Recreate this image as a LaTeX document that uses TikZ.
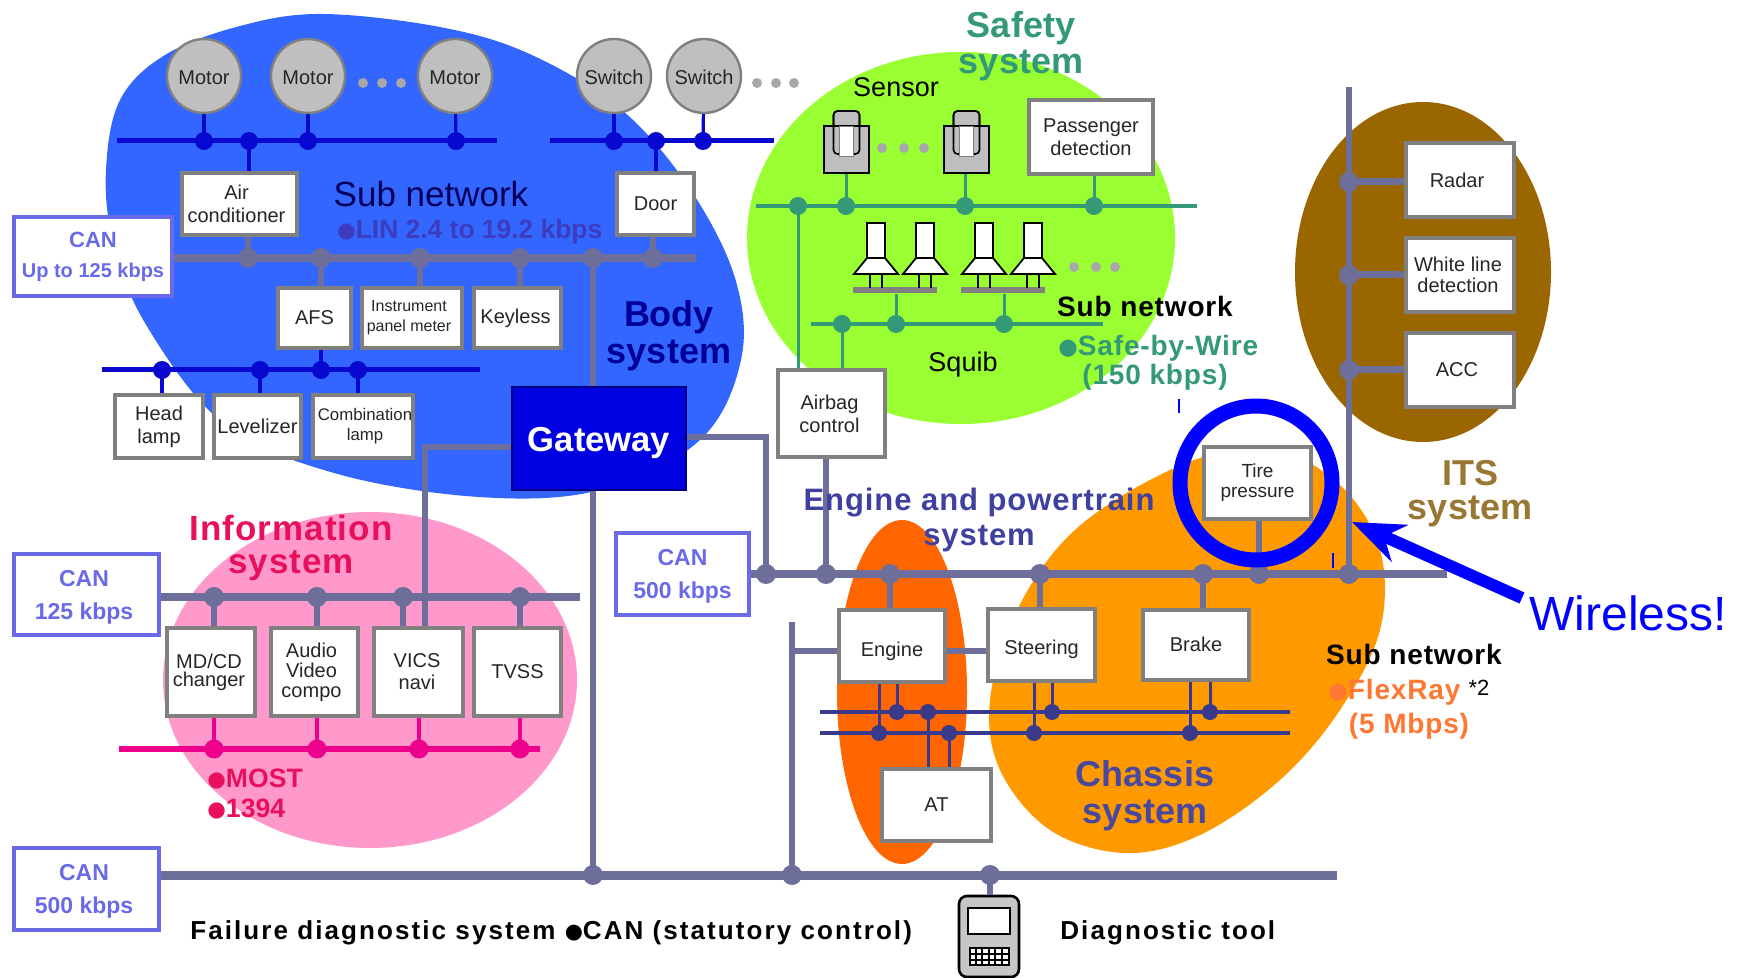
\documentclass[tikz,border=0pt]{standalone}
\usepackage{graphicx}
\usepackage{fontspec}
\setmainfont{Liberation Sans}
\newfontfamily\sym{DejaVu Sans}
\newfontfamily\lsb[LetterSpace=8]{Liberation Sans}
\newfontfamily\lsc[LetterSpace=3]{Liberation Sans}
\usetikzlibrary{arrows.meta,calc}
\definecolor{busgray}{HTML}{6E6E9A}
\definecolor{boxgray}{HTML}{808080}
\definecolor{linblue}{HTML}{0808D0}
\definecolor{cangreen}{HTML}{339977}
\definecolor{canedge}{HTML}{6A6AE8}
\definecolor{flexnavy}{HTML}{3A3A8C}
\definecolor{infored}{HTML}{E8105C}
\definecolor{dotgray}{HTML}{A8A8A8}
\newcommand\fs[2]{\fontsize{#1}{#2}\selectfont}
\newcommand\bull{\raisebox{0.04em}{\scalebox{0.8}{\sym ●}}}
\newcommand\lw[2]{\raisebox{#1}[\height][\depth]{#2}}
\newcommand\tl{\rule{0pt}{10.5pt}}
\newcommand\bx[7][]{\node[boxn,minimum width={(#5-#3)*0.5pt},minimum height={(#6-#4)*0.5pt},#1] (#2) at ({(#3+#5)/2},{(#4+#6)/2}) {#7};}
\newcommand\cn[7][]{\node[canbox,minimum width={(#5-#3)*0.5pt},minimum height={(#6-#4)*0.5pt},#1] (#2) at ({(#3+#5)/2},{(#4+#6)/2}) {#7};}
\tikzset{
 x=0.5pt,y=-0.5pt,
 boxn/.style={draw=boxgray,fill=white,line width=1.6pt,inner sep=0pt,align=center,text=black!85,font=\fs{10}{11.5}},
 canbox/.style={draw=canedge,fill=white,line width=1.7pt,inner sep=0pt,align=center,text=canedge,font=\bfseries\fs{11.5}{16.5}},
 actor/.style={circle,draw=boxgray,fill=gray!50,line width=1.2pt,inner sep=0pt,minimum size=37pt,font=\fs{10}{11.5},text=black!85},
 lbl/.style={inner sep=0pt,align=center},
 jb/.style={circle,fill=linblue,inner sep=0pt,minimum size=9pt},
 jg/.style={circle,fill=busgray,inner sep=0pt,minimum size=10pt},
 jc/.style={circle,fill=cangreen,inner sep=0pt,minimum size=9pt},
 jm/.style={circle,fill=magenta,inner sep=0pt,minimum size=9.5pt},
 jf/.style={circle,fill=flexnavy,inner sep=0pt,minimum size=8pt},
 dotn/.style={circle,fill=dotgray,inner sep=0pt,minimum size=5pt},
 linbus/.style={draw=linblue,line width=2.5pt},
 linstub/.style={draw=linblue,line width=1.6pt},
 canbus/.style={draw=busgray,line width=4pt},
 canstub/.style={draw=busgray,line width=2.6pt},
 greenbus/.style={draw=cangreen,line width=2pt},
 greenstub/.style={draw=cangreen,line width=1.5pt},
 mostbus/.style={draw=magenta,line width=3pt},
 mostagstub/.style={draw=magenta,line width=2.4pt},
 flexbus/.style={draw=flexnavy,line width=2pt},
 flexstub/.style={draw=flexnavy,line width=1.5pt},
}
\begin{document}
\begin{tikzpicture}
\useasboundingbox (0,0) rectangle (1746,978);
\fill[white] (0,0) rectangle (1746,978);
% ---- system regions
\fill[fill={rgb,255:red,51;green,102;blue,255}] plot[smooth cycle,tension=0.6] coordinates {(323,14)(445,28)(534,56)(623,111)(690,189)(735,278)(741,360)(700,440)(600,490)(479,497)(334,473)(223,423)(145,323)(113,240)(106,170)(120,100)(165,55)(240,26)};
\fill[fill={rgb,255:red,153;green,255;blue,51}] (961,238) ellipse (214 and 186);
\fill[fill={rgb,255:red,153;green,102;blue,0}] (1423,272) ellipse (128 and 170);
\fill[fill={rgb,255:red,255;green,153;blue,204}] (370,680) ellipse (207 and 168);
\fill[fill={rgb,255:red,255;green,102;blue,0}] (902,692) ellipse (65 and 172);
\fill[fill={rgb,255:red,255;green,153;blue,0}] plot[smooth cycle,tension=0.6] coordinates {(1270,447)(1340,485)(1380,550)(1380,630)(1340,710)(1280,780)(1200,835)(1125,853)(1050,830)(1000,770)(990,700)(1015,615)(1060,545)(1120,497)(1200,458)};
% ---- actors
\node[actor] (motorA) at (204,76) {\lw{-0.8pt}{Motor}};
\node[actor] (motorB) at (308,76) {\lw{-0.8pt}{Motor}};
\node[actor] (motorC) at (455,76) {\lw{-0.8pt}{Motor}};
\node[actor] (switchA) at (614,76) {\lw{-0.6pt}{Switch}};
\node[actor] (switchB) at (704,76) {\lw{-0.6pt}{Switch}};
\node[dotn] (d1) at (363,83) {}; \node[dotn] (d2) at (382,83) {}; \node[dotn] (d3) at (401,83) {};
\node[dotn] (d4) at (757,83) {}; \node[dotn] (d5) at (776,83) {}; \node[dotn] (d6) at (794,83) {};
% ---- boxes
\bx{aircon}{182}{173}{297}{235}{Air\kern3pt\\conditioner\kern3pt}
\bx{door}{617}{173}{694}{235}{Door}
\bx{afs}{278}{288}{351}{348}{AFS}
\bx[font=\fs{8}{10}]{instr}{362}{288}{462}{348}{Instrument\kern3pt\\panel meter\kern3pt}
\bx{keyless}{474}{288}{561}{348}{Keyless\kern2pt}
\bx{head}{115}{395}{203}{458}{Head\\lamp}
\bx{level}{214}{395}{301}{458}{Levelizer}
\bx[font=\fs{8.4}{10}]{combi}{313}{395}{413}{458}{\kern2pt Combination\\\kern2pt lamp}
\bx{pass}{1029}{100}{1153}{174}{Passenger\\detection}
\bx{airbag}{778}{370}{885}{457}{Airbag\kern2pt\\control\kern2pt}
\bx{radar}{1406}{143}{1514}{217}{Radar\kern3pt}
\bx[font=\fs{10}{10.5}]{white}{1406}{238}{1514}{312}{White line\kern2pt\\detection\kern2pt}
\bx{acc}{1406}{333}{1514}{407}{ACC\kern3pt}
\bx[font=\fs{10}{9}]{mdcd}{167}{628}{255}{716}{MD/CD\kern2pt\\changer\kern2pt}
\bx[font=\fs{10}{10}]{audio}{271}{628}{358}{716}{Audio\kern3pt\\Video\kern3pt\\compo\kern3pt}
\bx[font=\fs{10}{11}]{vics}{374}{628}{463}{716}{VICS\kern1.5pt\\navi\kern1.5pt}
\bx{tvss}{474}{628}{561}{716}{TVSS}
\bx{engine}{839}{610}{945}{682}{\lw{-2.5pt}{Engine}}
\bx{steer}{988}{609}{1095}{681}{\lw{-2.2pt}{Steering}}
\bx{brake}{1143}{610}{1249}{680}{\lw{0.5pt}{Brake}}
\bx[font=\fs{9.5}{10}]{tire}{1204}{447}{1311}{519}{Tire\\pressure}
\bx{at}{882}{769}{991}{841}{AT}
\cn[font=\bfseries\fs{11}{15}]{canA}{14}{217}{172}{296}{CAN\\{\fs{10}{15}Up to 125 kbps}}
\cn{canB}{14}{554}{159}{635}{\tl CAN\kern2.5pt\\125 kbps\kern2.5pt}
\cn{canC}{14}{848}{159}{930}{\tl CAN\kern2.5pt\\500 kbps\kern2.5pt}
\cn{canD}{616}{533}{749}{615}{\tl CAN\\500 kbps}
\node[draw={rgb,255:red,0;green,0;blue,128},fill={rgb,255:red,0;green,0;blue,224},line width=1.2pt,inner sep=0pt,minimum width=87pt,minimum height=51.5pt,text=white,font=\bfseries\fs{17.3}{20}] (gateway) at (599,438.5) {\lw{-2.2pt}{Gateway}};
% ---- junctions
\foreach \n/\px in {jA/204,jB/249,jC/308,jD/456,jE/614,jF/656,jG/703}{\node[jb] (\n) at (\px,141) {};}
\foreach \n/\px in {jH/162,jI/260,jJ/321,jK/358}{\node[jb] (\n) at (\px,370) {};}
\foreach \n/\px in {kA/248,kB/321,kC/420,kD/520,kE/593,kF/653}{\node[jg] (\n) at (\px,258) {};}
\foreach \n/\px in {lA/214,lB/317,lC/403,lD/520}{\node[jg] (\n) at (\px,597) {};}
\foreach \n/\px in {mA/214,mB/317,mC/419,mD/520}{\node[jm] (\n) at (\px,749) {};}
\foreach \n/\px in {nA/766,nB/826,nC/890,nD/1040,nE/1203,nF/1259,nG/1349}{\node[jg] (\n) at (\px,574) {};}
\foreach \n/\py in {iA/182,iB/275,iC/370}{\node[jg] (\n) at (1349,\py) {};}
\foreach \n/\px in {oA/593,oB/792,oC/990}{\node[jg] (\n) at (\px,875) {};}
\foreach \n/\px in {gA/798,gB/846,gC/965,gD/1094}{\node[jc] (\n) at (\px,206) {};}
\foreach \n/\px in {hA/842,hB/896,hC/1004}{\node[jc] (\n) at (\px,324) {};}
\foreach \n/\px in {fA/897,fB/928,fC/1052,fD/1210}{\node[jf] (\n) at (\px,712) {};}
\foreach \n/\px in {fE/879,fF/949,fG/1034,fH/1190}{\node[jf] (\n) at (\px,733) {};}
% ---- LIN buses
\coordinate (e1) at (117,141); \coordinate (e2) at (497,141);
\coordinate (e3) at (550,141); \coordinate (e4) at (774,141);
\coordinate (e5) at (102,370); \coordinate (e6) at (480,370);
\draw[linbus] (e1)--(e2); \draw[linbus] (e3)--(e4); \draw[linbus] (e5)--(e6);
\draw[linstub] (motorA)--(jA.center); \draw[linstub] (motorB)--(jC.center); \draw[linstub] (motorC)--(jD.center);
\draw[linstub] (switchA)--(jE.center); \draw[linstub] (switchB)--(jG.center);
\draw[linstub] (jB.center)--(jB |- aircon.north); \draw[linstub] (jF.center)--(jF |- door.north);
\draw[linstub] (jH.center)--(jH |- head.north); \draw[linstub] (jI.center)--(jI |- level.north);
\draw[linstub] (jK.center)--(jK |- combi.north); \draw[linstub] (jJ.center)--(jJ |- afs.south);
% ---- body CAN
\coordinate (e7) at (696,258);
\draw[canbus] (canA.east |- kA)--(e7);
\draw[canstub] (kA.center)--(kA |- aircon.south); \draw[canstub] (kF.center)--(kF |- door.south);
\draw[canstub] (kB.center)--(kB |- afs.north); \draw[canstub] (kC.center)--(kC |- instr.north); \draw[canstub] (kD.center)--(kD |- keyless.north);
\draw[draw=busgray,line width=3pt] (kE.center)--(kE |- gateway.north);
\draw[draw=busgray,line width=3pt] (kE |- gateway.south)--(oA.center);
% ---- information CAN and MOST
\coordinate (e8) at (580,597);
\draw[canbus] (canB.east |- lA)--(e8);
\draw[canstub] (lA.center)--(lA |- mdcd.north); \draw[canstub] (lB.center)--(lB |- audio.north);
\draw[canstub] (lC.center)--(lC |- vics.north); \draw[canstub] (lD.center)--(lD |- tvss.north);
\coordinate (e9) at (119,749); \coordinate (e10) at (540,749);
\draw[mostbus] (e9)--(e10);
\draw[mostagstub] (mA.center)--(mA |- mdcd.south); \draw[mostagstub] (mB.center)--(mB |- audio.south);
\draw[mostagstub] (mC.center)--(mC |- vics.south); \draw[mostagstub] (mD.center)--(mD |- tvss.south);
\coordinate (g1) at (425,447);
\draw[draw=busgray,line width=2.6pt] (gateway.west |- g1)--(g1)--(g1 |- vics.north);
\coordinate (g2) at (766,437);
\draw[draw=busgray,line width=3pt] (gateway.east |- g2)--(g2)--(nA.center);
% ---- powertrain CAN
\coordinate (e11) at (1447,574);
\draw[canbus] (canD.east |- nA)--(e11);
\draw[canstub] (nB.center)--(nB |- airbag.south);
\draw[canstub] (nC.center)--(nC |- engine.north); \draw[canstub] (nD.center)--(nD |- steer.north);
\draw[canstub] (nE.center)--(nE |- brake.north); \draw[canstub] (nF.center)--(nF |- tire.south);
\coordinate (g3) at (792,651); \coordinate (g4) at (792,622); \coordinate (g5) at (1349,87);
\draw[draw=busgray,line width=3pt] (g4)--(oB.center);
\draw[canstub] (g3)--(engine.west |- g3); \draw[canstub] (engine.east |- g3)--(steer.west |- g3);
\draw[draw=busgray,line width=3pt] (g5)--(nG.center);
\draw[draw=busgray,line width=3.5pt] (iA.center)--(iA -| radar.west);
\draw[draw=busgray,line width=3.5pt] (iB.center)--(iB -| white.west);
\draw[draw=busgray,line width=3.5pt] (iC.center)--(iC -| acc.west);
% ---- diagnostic bus
\coordinate (e12) at (1337,875);
\draw[draw=busgray,line width=4.5pt] (canC.east |- oA)--(e12);
% ---- flexray
\coordinate (e13) at (820,712); \coordinate (e14) at (1290,712);
\coordinate (e15) at (820,733); \coordinate (e16) at (1290,733);
\draw[flexbus] (e13)--(e14); \draw[flexbus] (e15)--(e16);
\draw[flexstub] (fE.center)--(fE |- engine.south); \draw[flexstub] (fA.center)--(fA |- engine.south);
\draw[flexstub] (fB.center)--(fB |- at.north); \draw[flexstub] (fF.center)--(fF |- at.north);
\draw[flexstub] (fG.center)--(fG |- steer.south); \draw[flexstub] (fC.center)--(fC |- steer.south);
\draw[flexstub] (fH.center)--(fH |- brake.south); \draw[flexstub] (fD.center)--(fD |- brake.south);
% ---- safety: sensors
\foreach \n/\cx in {sensA/846.5,sensB/966.5}{
 \fill[gray!50,draw=black,line width=0.8pt,rounded corners=2pt] (\cx-13,111) rectangle (\cx+13,140);
 \node[draw=black,fill=gray!50,line width=0.8pt,inner sep=0pt,minimum width=22.5pt,minimum height=23.5pt] (\n) at (\cx,149.5) {};
 \draw[black,line width=0.8pt,rounded corners=2pt] (\cx-13,111) rectangle (\cx+13,154);
 \fill[white,draw=gray,line width=0.5pt] (\cx-7,127) rectangle (\cx+7,157);
}
\node[dotn] (d7) at (882,148) {}; \node[dotn] (d8) at (904,148) {}; \node[dotn] (d9) at (924,148) {};
\node[dotn] (d10) at (1074,267) {}; \node[dotn] (d11) at (1096,267) {}; \node[dotn] (d12) at (1115,267) {};
\coordinate (e17) at (756,206); \coordinate (e18) at (1197,206);
\coordinate (e19) at (811,324); \coordinate (e20) at (1103,324);
\draw[greenbus] (e17)--(e18); \draw[greenbus] (e19)--(e20);
\draw[greenstub] (gB.center)--(gB |- sensA.south); \draw[greenstub] (gC.center)--(gC |- sensB.south);
\draw[greenstub] (gD.center)--(gD |- pass.south);
\draw[greenstub] (gA.center)--(gA |- airbag.north); \draw[greenstub] (hA.center)--(hA |- airbag.north);
% squibs
\node[fill=gray,inner sep=0pt,minimum width=42pt,minimum height=3.2pt] (barA) at (895,290) {};
\node[fill=gray,inner sep=0pt,minimum width=42pt,minimum height=3.2pt] (barB) at (1003,290) {};
\draw[greenstub] (hB.center)--(hB |- barA.south); \draw[greenstub] (hC.center)--(hC |- barB.south);
\foreach \cx in {876,925,984,1033}{
 \draw[black,line width=0.8pt] (\cx-6,274)--(\cx-6,288) (\cx+6,274)--(\cx+6,288);
 \filldraw[fill=white,draw=black,line width=0.9pt] (\cx-9,223) rectangle (\cx+9,258);
 \filldraw[fill=white,draw=black,line width=0.9pt] (\cx-9,258)--(\cx+9,258)--(\cx+22,274)--(\cx-22,274)--cycle;
}
% ---- diagnostic tool
\node[draw=black,fill=gray!45,line width=1.3pt,rounded corners=4pt,inner sep=0pt,minimum width=30pt,minimum height=40.5pt] (tool) at (989,936.5) {};
\draw[draw=busgray,line width=2.6pt] (oC.center)--(oC |- tool.north);
\fill[white,draw=black,line width=0.9pt] (968,908) rectangle (1010,934);
\draw[black,line width=0.6pt,fill=white] (970,948) rectangle (1009,965);
\foreach \gx in {976,982,989,995,1002}{\draw[black,line width=0.6pt] (\gx,948)--(\gx,965);}
\draw[black,line width=0.6pt] (970,954)--(1009,954) (970,960)--(1009,960);
% ---- texts
\node[lbl,font=\fs{17.5}{20},text={rgb,255:red,0;green,0;blue,90}] (t1) at (431,194) {Sub network};
\node[lbl,font=\bfseries\fs{13.2}{15},text={rgb,255:red,60;green,60;blue,190},anchor=west] (t2) at (337,232) {\bull LIN 2.4 to 19.2 kbps};
\node[lbl,font=\bfseries\fs{18}{18.5},text={rgb,255:red,0;green,0;blue,150}] (t3) at (669,335.5) {Body\\system};
\node[lbl,font=\bfseries\fs{18}{18},text=cangreen] (t4) at (1021,46) {Safety\\system};
\node[lbl,font=\fs{13.5}{15},text=black] (t5) at (896,87) {Sensor};
\node[lbl,font=\fs{13.5}{15},text=black] (t6) at (963,365) {Squib};
\node[lbl,font=\lsc\bfseries\fs{14}{15},text=black] (t7) at (1145,306) {Sub network};
\node[lbl,font=\lsc\bfseries\fs{14}{15},text=cangreen,anchor=west] (t8) at (1058,348) {\bull Safe-by-Wire};
\node[lbl,font=\lsc\bfseries\fs{14}{15},text=cangreen] (t9) at (1155,377) {(150 kbps)};
\node[lbl,font=\lsc\bfseries\fs{15.5}{17.8},text={rgb,255:red,64;green,64;blue,160}] (t10) at (979,520) {Engine and powertrain\\system};
\node[lbl,font=\lsc\bfseries\fs{17.5}{16.5},text=infored] (t11) at (291,548) {Information\\system};
\node[lbl,font=\bfseries\fs{18}{18.5},text={rgb,255:red,72;green,72;blue,160}] (t12) at (1145,796) {Chassis\\system};
\node[lbl,font=\bfseries\fs{18}{17},text={rgb,255:red,153;green,119;blue,51}] (t13) at (1470,494) {ITS\\system};
\node[lbl,font=\lsc\bfseries\fs{14}{15},text=black] (t14) at (1414,654) {Sub network};
\node[lbl,font=\lsc\bfseries\fs{14}{15},text={rgb,255:red,255;green,119;blue,51},anchor=west] (t15) at (1328,692) {\bull FlexRay};
\node[lbl,font=\fs{11}{12},text=black] (t16) at (1479,688) {*2};
\node[lbl,font=\lsc\bfseries\fs{14}{15},text={rgb,255:red,255;green,119;blue,51}] (t17) at (1409,726) {(5 Mbps)};
\node[lbl,font=\bfseries\fs{13.3}{15},text=infored,anchor=west] (t18) at (207,779) {\bull MOST};
\node[lbl,font=\bfseries\fs{13.3}{15},text=infored,anchor=west] (t19) at (207,809) {\bull 1394};
\node[lbl,font=\lsb\bfseries\fs{13}{15},text=black,anchor=west] (t20) at (190,933) {Failure diagnostic system \bull CAN (statutory control)};
\node[lbl,font=\lsb\bfseries\fs{13}{15},text=black,anchor=west] (t21) at (1060,933) {Diagnostic tool};
% ---- overlay: wireless annotation
\draw[draw={rgb,255:red,0;green,0;blue,255},line width=7.5pt] (1256,483) ellipse (76 and 77);
\draw[draw={rgb,255:red,0;green,0;blue,255},line width=0.6pt] (1179,399)--(1179,413) (1333,553)--(1333,568);
\node[lbl,font=\fs{24}{26},text={rgb,255:red,0;green,0;blue,255},anchor=west] (wire) at (1529,613) {Wireless!};
\coordinate (arrtail) at (1522,598); \coordinate (arrtip) at (1352,522);
\draw[draw={rgb,255:red,0;green,0;blue,255},fill={rgb,255:red,0;green,0;blue,255},line width=6pt,-{Stealth[length=26pt,width=20pt]}] (arrtail)--(arrtip);
\end{tikzpicture}
\end{document}
